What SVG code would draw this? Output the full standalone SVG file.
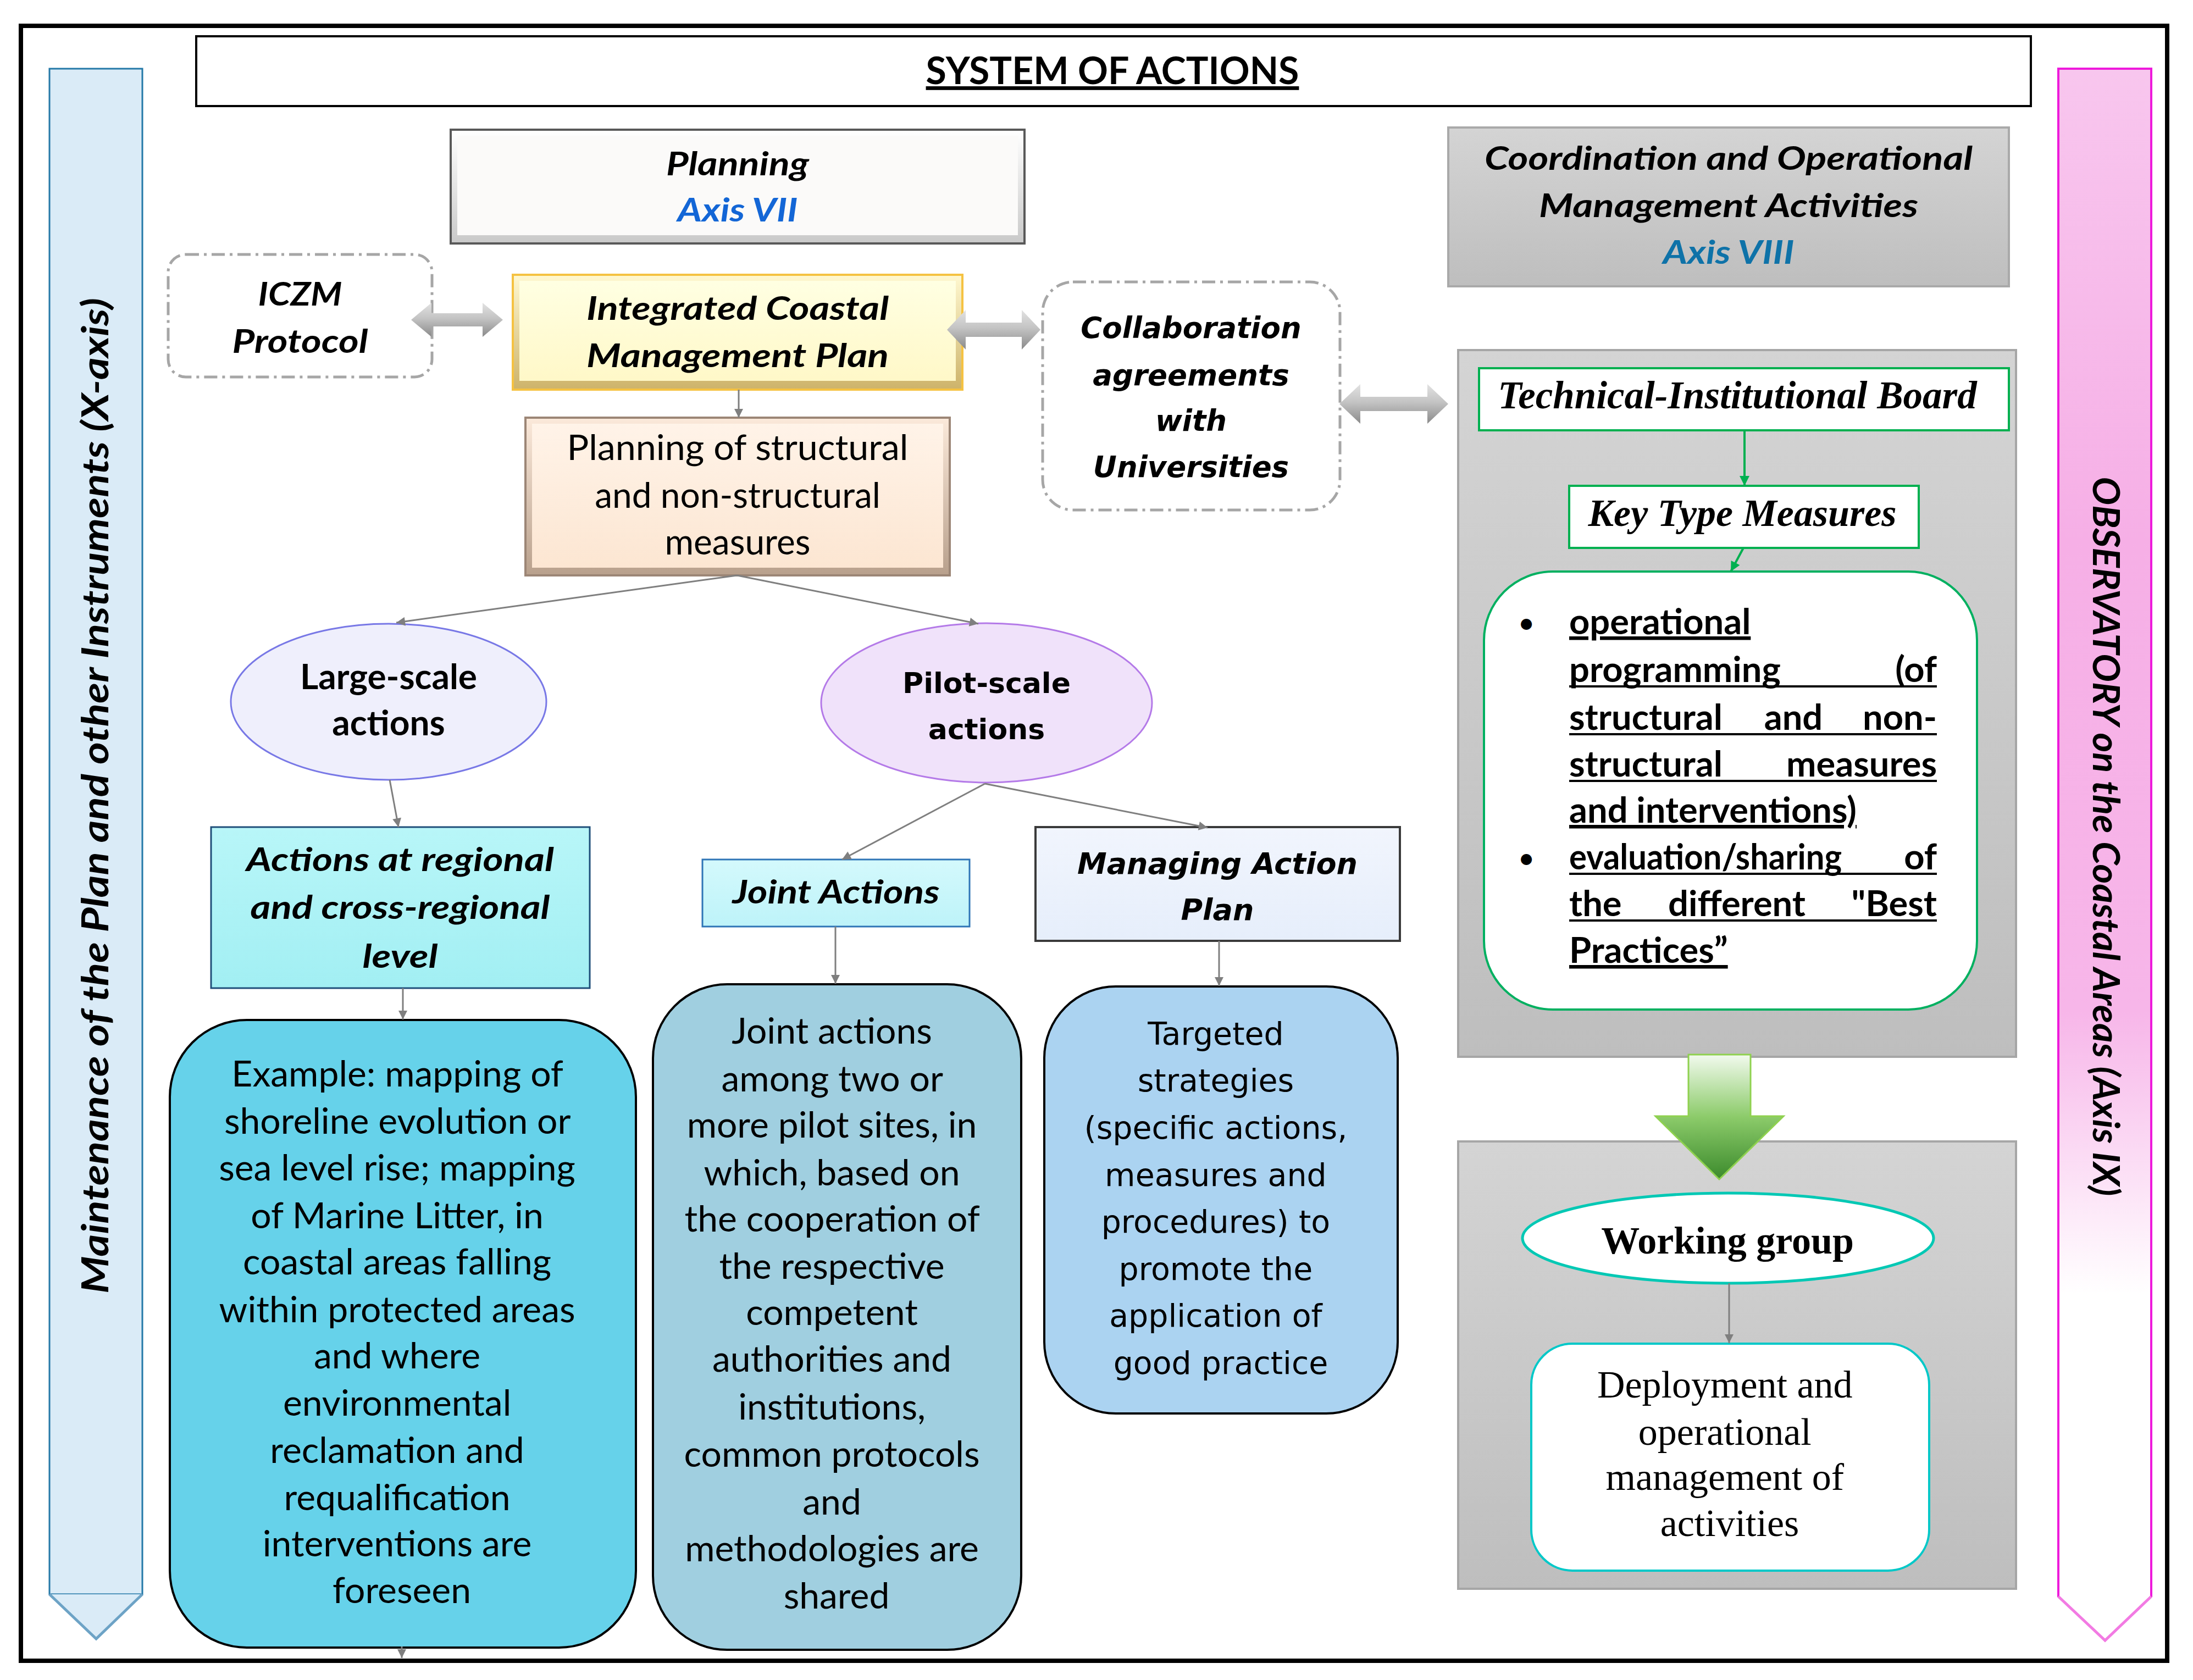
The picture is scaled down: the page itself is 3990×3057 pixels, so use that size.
<svg xmlns="http://www.w3.org/2000/svg" width="3990" height="3057" viewBox="0 0 3990 3057">
<defs>
<style>
.cal{font-family:Lato,"Open Sans","Liberation Sans",sans-serif}
.ver{font-family:"DejaVu Sans","Liberation Sans",sans-serif}
.tim{font-family:"Liberation Serif","DejaVu Serif",serif}
.b{font-weight:bold}
.i{font-style:italic}
.c{text-anchor:middle}
.conn{stroke:#7F7F7F;stroke-width:3;fill:none;marker-end:url(#ah)}
.gconn{stroke:#00B050;stroke-width:4;fill:none;marker-end:url(#gah)}
.dash{fill:#FFFFFF;stroke:#A6A6A6;stroke-width:5;stroke-dasharray:24 9 5 9}
.u{text-decoration:underline}
</style>
<marker id="ah" viewBox="0 0 10 10" refX="10" refY="5" markerWidth="18" markerHeight="16" markerUnits="userSpaceOnUse" orient="auto"><path d="M0,0 L10,5 L0,10 z" fill="#7F7F7F"/></marker>
<marker id="gah" viewBox="0 0 10 10" refX="10" refY="5" markerWidth="20" markerHeight="18" markerUnits="userSpaceOnUse" orient="auto"><path d="M0,0 L10,5 L0,10 z" fill="#00B050"/></marker>
<linearGradient id="dblArrow" x1="0" y1="0" x2="0" y2="1"><stop offset="0" stop-color="#E2E2E2"/><stop offset="0.45" stop-color="#C4C4C4"/><stop offset="1" stop-color="#8A8A8A"/></linearGradient>
<linearGradient id="grayPanel" x1="0" y1="0" x2="0" y2="1"><stop offset="0" stop-color="#D4D4D4"/><stop offset="1" stop-color="#BEBEBE"/></linearGradient>
<linearGradient id="pink" x1="0" y1="0" x2="0" y2="1"><stop offset="0" stop-color="#F8C6EE"/><stop offset="0.3" stop-color="#F6AFE6"/><stop offset="0.6" stop-color="#F7B6E9"/><stop offset="0.78" stop-color="#FFFFFF"/><stop offset="1" stop-color="#FFFFFF"/></linearGradient>
<linearGradient id="greenArrow" x1="0" y1="0" x2="0" y2="1"><stop offset="0" stop-color="#F2FAEE"/><stop offset="0.5" stop-color="#8CCB6A"/><stop offset="1" stop-color="#3B8A2C"/></linearGradient>
<linearGradient id="bvGray" x1="0" y1="0" x2="0" y2="1"><stop offset="0" stop-color="#FFFFFF"/><stop offset="1" stop-color="#C9C9C9"/></linearGradient>
<linearGradient id="bvGold" x1="0" y1="0" x2="0" y2="1"><stop offset="0" stop-color="#FFF8D0"/><stop offset="1" stop-color="#CDB36A"/></linearGradient>
<linearGradient id="bvPeach" x1="0" y1="0" x2="0" y2="1"><stop offset="0" stop-color="#FBE9DA"/><stop offset="1" stop-color="#B8A08C"/></linearGradient>
<linearGradient id="fYellow" x1="0" y1="0" x2="0" y2="1"><stop offset="0" stop-color="#FFFFE2"/><stop offset="1" stop-color="#FFF8C8"/></linearGradient>
<linearGradient id="fPeach" x1="0" y1="0" x2="0" y2="1"><stop offset="0" stop-color="#FFF3E8"/><stop offset="1" stop-color="#FCE6D2"/></linearGradient>
<linearGradient id="fCyan" x1="0" y1="0" x2="0" y2="1"><stop offset="0" stop-color="#B8F6F8"/><stop offset="1" stop-color="#A2EFF3"/></linearGradient>
<linearGradient id="fCyan2" x1="0" y1="0" x2="0" y2="1"><stop offset="0" stop-color="#D4F9FC"/><stop offset="1" stop-color="#BDF3F9"/></linearGradient>
<linearGradient id="fLav" x1="0" y1="0" x2="0" y2="1"><stop offset="0" stop-color="#F1F5FD"/><stop offset="1" stop-color="#E6EEFB"/></linearGradient>
</defs>

<rect x="0" y="0" width="3990" height="3057" fill="#FFFFFF"/>
<rect id="frame" x="38" y="47" width="3905" height="2975" fill="none" stroke="#000000" stroke-width="8"/>

<g id="left-bar">
<path d="M90,125 L259,125 L259,2901 L90,2901 Z" fill="#DAEBF7" stroke="#2479A8" stroke-width="3"/>
<path d="M90,2901 L175,2982 L259,2901" fill="#DAEBF7" stroke="#6DA3C6" stroke-width="5"/>
<text class="cal b i c" font-size="66" transform="translate(197,1448) rotate(-90)" textLength="1812" lengthAdjust="spacingAndGlyphs">Maintenance of the Plan and other Instruments (X-axis)</text>
</g>
<g id="right-bar">
<path d="M3745,125 L3914,125 L3914,2905 L3830,2985 L3745,2905 Z" fill="url(#pink)" stroke="#EE1ADB" stroke-width="4"/>
<path d="M3745,2905 L3830,2985 L3914,2905" fill="none" stroke="#F27BE3" stroke-width="5"/>
<text class="cal b i c" font-size="66" transform="translate(3808,1522) rotate(90)" textLength="1309" lengthAdjust="spacingAndGlyphs">OBSERVATORY on the Coastal Areas (Axis IX)</text>
</g>

<g id="title">
<rect x="357" y="66" width="3338" height="127" fill="#FFFFFF" stroke="#000000" stroke-width="4"/>
<text class="cal b c u" x="2024" y="153" font-size="68">SYSTEM OF ACTIONS</text>
</g>

<g id="planning">
<rect x="820" y="236" width="1044" height="207" fill="url(#bvGray)" stroke="#595959" stroke-width="4"/>
<rect x="832" y="247" width="1020" height="181" fill="#FBFAF9"/>
<text class="cal b i c" x="1342" y="319" font-size="60" textLength="260" lengthAdjust="spacingAndGlyphs">Planning</text>
<text class="cal b i c" x="1342" y="403" font-size="60" fill="#1366D6" textLength="219" lengthAdjust="spacingAndGlyphs">Axis VII</text>
</g>

<g id="iczm">
<rect x="306" y="463" width="480" height="223" rx="32" class="dash"/>
<text class="cal b i c" x="546" y="556" font-size="60" textLength="153" lengthAdjust="spacingAndGlyphs">ICZM</text>
<text class="cal b i c" x="546" y="642" font-size="60" textLength="247" lengthAdjust="spacingAndGlyphs">Protocol</text>
</g>

<g id="icmp">
<rect x="933" y="500" width="818" height="209" fill="url(#bvGold)" stroke="#F5C242" stroke-width="4"/>
<rect x="945" y="511" width="794" height="182" fill="url(#fYellow)"/>
<text class="cal b i c" x="1342" y="582" font-size="60" textLength="550" lengthAdjust="spacingAndGlyphs">Integrated Coastal</text>
<text class="cal b i c" x="1342" y="668" font-size="60" textLength="550" lengthAdjust="spacingAndGlyphs">Management Plan</text>
</g>

<g id="collab">
<rect x="1897" y="513" width="541" height="415" rx="55" class="dash"/>
<text class="ver b i c" x="2167" y="615" font-size="53">Collaboration</text>
<text class="ver b i c" x="2167" y="701" font-size="53">agreements</text>
<text class="ver b i c" x="2167" y="784" font-size="53">with</text>
<text class="ver b i c" x="2167" y="868" font-size="53">Universities</text>
</g>

<g id="coordination">
<rect x="2635" y="232" width="1020" height="289" fill="url(#grayPanel)" stroke="#A9A9A9" stroke-width="4"/>
<text class="cal b i c" x="3145" y="309" font-size="60" textLength="888" lengthAdjust="spacingAndGlyphs">Coordination and Operational</text>
<text class="cal b i c" x="3145" y="395" font-size="60" textLength="690" lengthAdjust="spacingAndGlyphs">Management Activities</text>
<text class="cal b i c" x="3145" y="480" font-size="60" fill="#0E72A8" textLength="239" lengthAdjust="spacingAndGlyphs">Axis VIII</text>
</g>

<g id="planning-measures">
<rect x="956" y="760" width="772" height="287" fill="url(#bvPeach)" stroke="#9C8676" stroke-width="4"/>
<rect x="968" y="771" width="748" height="262" fill="url(#fPeach)"/>
<text class="cal c" x="1342" y="837" font-size="64" textLength="621" lengthAdjust="spacingAndGlyphs">Planning of structural</text>
<text class="cal c" x="1342" y="924" font-size="64">and non-structural</text>
<text class="cal c" x="1342" y="1009" font-size="64">measures</text>
</g>

<g id="large-scale">
<ellipse cx="707" cy="1277" rx="287" ry="142" fill="#EFEFFC" stroke="#7878E6" stroke-width="3"/>
<text class="cal b c" x="707" y="1254" font-size="64">Large-scale</text>
<text class="cal b c" x="707" y="1338" font-size="64">actions</text>
</g>

<g id="pilot-scale">
<ellipse cx="1795" cy="1279" rx="301" ry="145" fill="#F0E2FA" stroke="#B47AE8" stroke-width="3"/>
<text class="ver b c" x="1795" y="1261" font-size="52">Pilot-scale</text>
<text class="ver b c" x="1795" y="1345" font-size="52">actions</text>
</g>

<g id="regional">
<rect x="384" y="1505" width="689" height="293" fill="url(#fCyan)" stroke="#1F4E79" stroke-width="3"/>
<text class="cal b i c" x="728" y="1585" font-size="60" textLength="560" lengthAdjust="spacingAndGlyphs">Actions at regional</text>
<text class="cal b i c" x="728" y="1672" font-size="60" textLength="545" lengthAdjust="spacingAndGlyphs">and cross-regional</text>
<text class="cal b i c" x="728" y="1761" font-size="60" textLength="137" lengthAdjust="spacingAndGlyphs">level</text>
</g>

<g id="joint-actions">
<rect x="1278" y="1564" width="486" height="122" fill="url(#fCyan2)" stroke="#2E75B6" stroke-width="3"/>
<text class="cal b i c" x="1521" y="1644" font-size="60" textLength="377" lengthAdjust="spacingAndGlyphs">Joint Actions</text>
</g>

<g id="managing">
<rect x="1884" y="1505" width="663" height="207" fill="url(#fLav)" stroke="#3A3A3A" stroke-width="4"/>
<text class="ver b i c" x="2215" y="1590" font-size="54">Managing Action</text>
<text class="ver b i c" x="2215" y="1674" font-size="54">Plan</text>
</g>

<g id="example">
<rect x="309" y="1856" width="848" height="1142" rx="140" fill="#66D2EA" stroke="#000000" stroke-width="4"/>
<text class="cal c" font-size="66">
<tspan x="731" y="1977">Example: mapping of</tspan>
<tspan x="731" y="2063">shoreline evolution or</tspan>
<tspan x="731" y="2148">sea level rise; mapping</tspan>
<tspan x="731" y="2235">of Marine Litter, in</tspan>
<tspan x="731" y="2319">coastal areas falling</tspan>
<tspan x="731" y="2406">within protected areas</tspan>
<tspan x="731" y="2490">and where</tspan>
<tspan x="731" y="2576">environmental</tspan>
<tspan x="731" y="2662">reclamation and</tspan>
<tspan x="731" y="2748">requalification</tspan>
<tspan x="731" y="2832">interventions are</tspan>
<tspan x="731" y="2917">foreseen</tspan>
</text>
</g>

<g id="joint-text">
<rect x="1188" y="1791" width="670" height="1211" rx="135" fill="#A0CFE0" stroke="#000000" stroke-width="4"/>
<text class="cal c" font-size="66">
<tspan x="1522" y="1899">Joint actions</tspan>
<tspan x="1522" y="1986">among two or</tspan>
<tspan x="1522" y="2070">more pilot sites, in</tspan>
<tspan x="1522" y="2157">which, based on</tspan>
<tspan x="1522" y="2241">the cooperation of</tspan>
<tspan x="1522" y="2327">the respective</tspan>
<tspan x="1522" y="2411">competent</tspan>
<tspan x="1522" y="2496">authorities and</tspan>
<tspan x="1522" y="2583">institutions,</tspan>
<tspan x="1522" y="2669">common protocols</tspan>
<tspan x="1522" y="2756">and</tspan>
<tspan x="1522" y="2841">methodologies are</tspan>
<tspan x="1522" y="2927">shared</tspan>
</text>
</g>

<g id="targeted">
<rect x="1900" y="1795" width="643" height="777" rx="130" fill="#ABD3F1" stroke="#000000" stroke-width="4"/>
<text class="ver c" font-size="57">
<tspan x="2221" y="1901">Targeted</tspan>
<tspan x="2221" y="1986">strategies</tspan>
<tspan x="2221" y="2072">(specific actions,</tspan>
<tspan x="2221" y="2158">measures and</tspan>
<tspan x="2221" y="2243">procedures) to</tspan>
<tspan x="2221" y="2329">promote the</tspan>
<tspan x="2221" y="2414">application of</tspan>
<tspan x="2221" y="2500">good practice</tspan>
</text>
</g>

<g id="board-panel">
<rect x="2653" y="637" width="1015" height="1286" fill="url(#grayPanel)" stroke="#A6A6A6" stroke-width="4"/>
</g>
<g id="tech-board">
<rect x="2691" y="670" width="964" height="113" fill="#FFFFFF" stroke="#00B050" stroke-width="4"/>
<text class="tim b i c" x="3161" y="743" font-size="71">Technical-Institutional Board</text>
</g>
<g id="key-type">
<rect x="2855" y="884" width="636" height="113" fill="#FFFFFF" stroke="#00B050" stroke-width="4"/>
<text class="tim b i c" x="3170" y="957" font-size="70">Key Type Measures</text>
</g>
<g id="key-measures">
<rect x="2700" y="1040" width="897" height="797" rx="125" fill="#FFFFFF" stroke="#00B060" stroke-width="4"/>
<g class="cal b" font-size="65">
<text x="2777" y="1150" class="c" font-size="46">•</text>
<text x="2855" y="1154" class="u">operational</text>
<text x="2855" y="1241">programming</text>
<text x="3524" y="1241" text-anchor="end">(of</text>
<text x="2855" y="1328">structural</text>
<text x="3263" y="1328" class="c">and</text>
<text x="3524" y="1328" text-anchor="end">non-</text>
<text x="2855" y="1413">structural</text>
<text x="3524" y="1413" text-anchor="end">measures</text>
<text x="2855" y="1497" class="u">and interventions)</text>
<text x="2777" y="1578" class="c" font-size="46">•</text>
<text x="2855" y="1582" textLength="496" lengthAdjust="spacingAndGlyphs">evaluation/sharing</text>
<text x="3524" y="1582" text-anchor="end">of</text>
<text x="2855" y="1667">the</text>
<text x="3160" y="1667" class="c">different</text>
<text x="3524" y="1667" text-anchor="end">"Best</text>
<text x="2855" y="1752" class="u">Practices”</text>
</g>
<g stroke="#000000" stroke-width="4">
<line x1="2855" y1="1249" x2="3524" y2="1249"/>
<line x1="2855" y1="1336" x2="3524" y2="1336"/>
<line x1="2855" y1="1421" x2="3524" y2="1421"/>
<line x1="2855" y1="1590" x2="3524" y2="1590"/>
<line x1="2855" y1="1675" x2="3524" y2="1675"/>
</g>
</g>

<g id="wg-panel">
<rect x="2653" y="2077" width="1015" height="814" fill="url(#grayPanel)" stroke="#A6A6A6" stroke-width="4"/>
</g>
<g id="green-arrow">
<path d="M3072,1919 L3185,1919 L3185,2031 L3245,2031 L3128,2146 L3012,2031 L3072,2031 Z" fill="url(#greenArrow)" stroke="#8FD14F" stroke-width="3"/>
</g>
<g id="working-group">
<ellipse cx="3144" cy="2253" rx="374" ry="82" fill="#FFFFFF" stroke="#00C8B4" stroke-width="5"/>
<text class="tim b c" x="3143" y="2281" font-size="70">Working group</text>
</g>
<g id="deployment">
<rect x="2786" y="2445" width="724" height="413" rx="75" fill="#FFFFFF" stroke="#00C8C8" stroke-width="4"/>
<text class="tim c" font-size="70">
<tspan x="3147" y="2543">Deployment and</tspan>
<tspan x="3147" y="2629">operational</tspan>
<tspan x="3147" y="2711">management of</tspan>
<tspan x="3147" y="2795">activities</tspan>
</text>
</g>

<g id="connectors">
<path d="M748,582 L785,551 L785,570 L878,570 L878,551 L915,582 L878,613 L878,594 L785,594 L785,613 Z" fill="url(#dblArrow)"/>
<path d="M1723,600 L1757,564 L1757,587 L1859,587 L1859,564 L1893,600 L1859,636 L1859,613 L1757,613 L1757,636 Z" fill="url(#dblArrow)"/>
<path d="M2437,735 L2475,699 L2475,722 L2597,722 L2597,699 L2635,735 L2597,771 L2597,748 L2475,748 L2475,771 Z" fill="url(#dblArrow)"/>
<line class="conn" x1="1344" y1="709" x2="1344" y2="760"/>
<line class="conn" x1="1341" y1="1047" x2="721" y2="1133"/>
<line class="conn" x1="1341" y1="1047" x2="1780" y2="1135"/>
<line class="conn" x1="709" y1="1419" x2="725" y2="1505"/>
<line class="conn" x1="1792" y1="1426" x2="1532" y2="1564"/>
<line class="conn" x1="1792" y1="1426" x2="2197" y2="1506"/>
<line class="conn" x1="733" y1="1798" x2="733" y2="1855"/>
<line class="conn" x1="1520" y1="1686" x2="1520" y2="1790"/>
<line class="conn" x1="2218" y1="1712" x2="2218" y2="1794"/>
<line class="conn" x1="731" y1="2996" x2="731" y2="3017"/>
<line class="conn" x1="3146" y1="2335" x2="3146" y2="2444"/>
<line class="gconn" x1="3174" y1="783" x2="3174" y2="884"/>
<line class="gconn" x1="3172" y1="997" x2="3149" y2="1040"/>
</g>
</svg>
